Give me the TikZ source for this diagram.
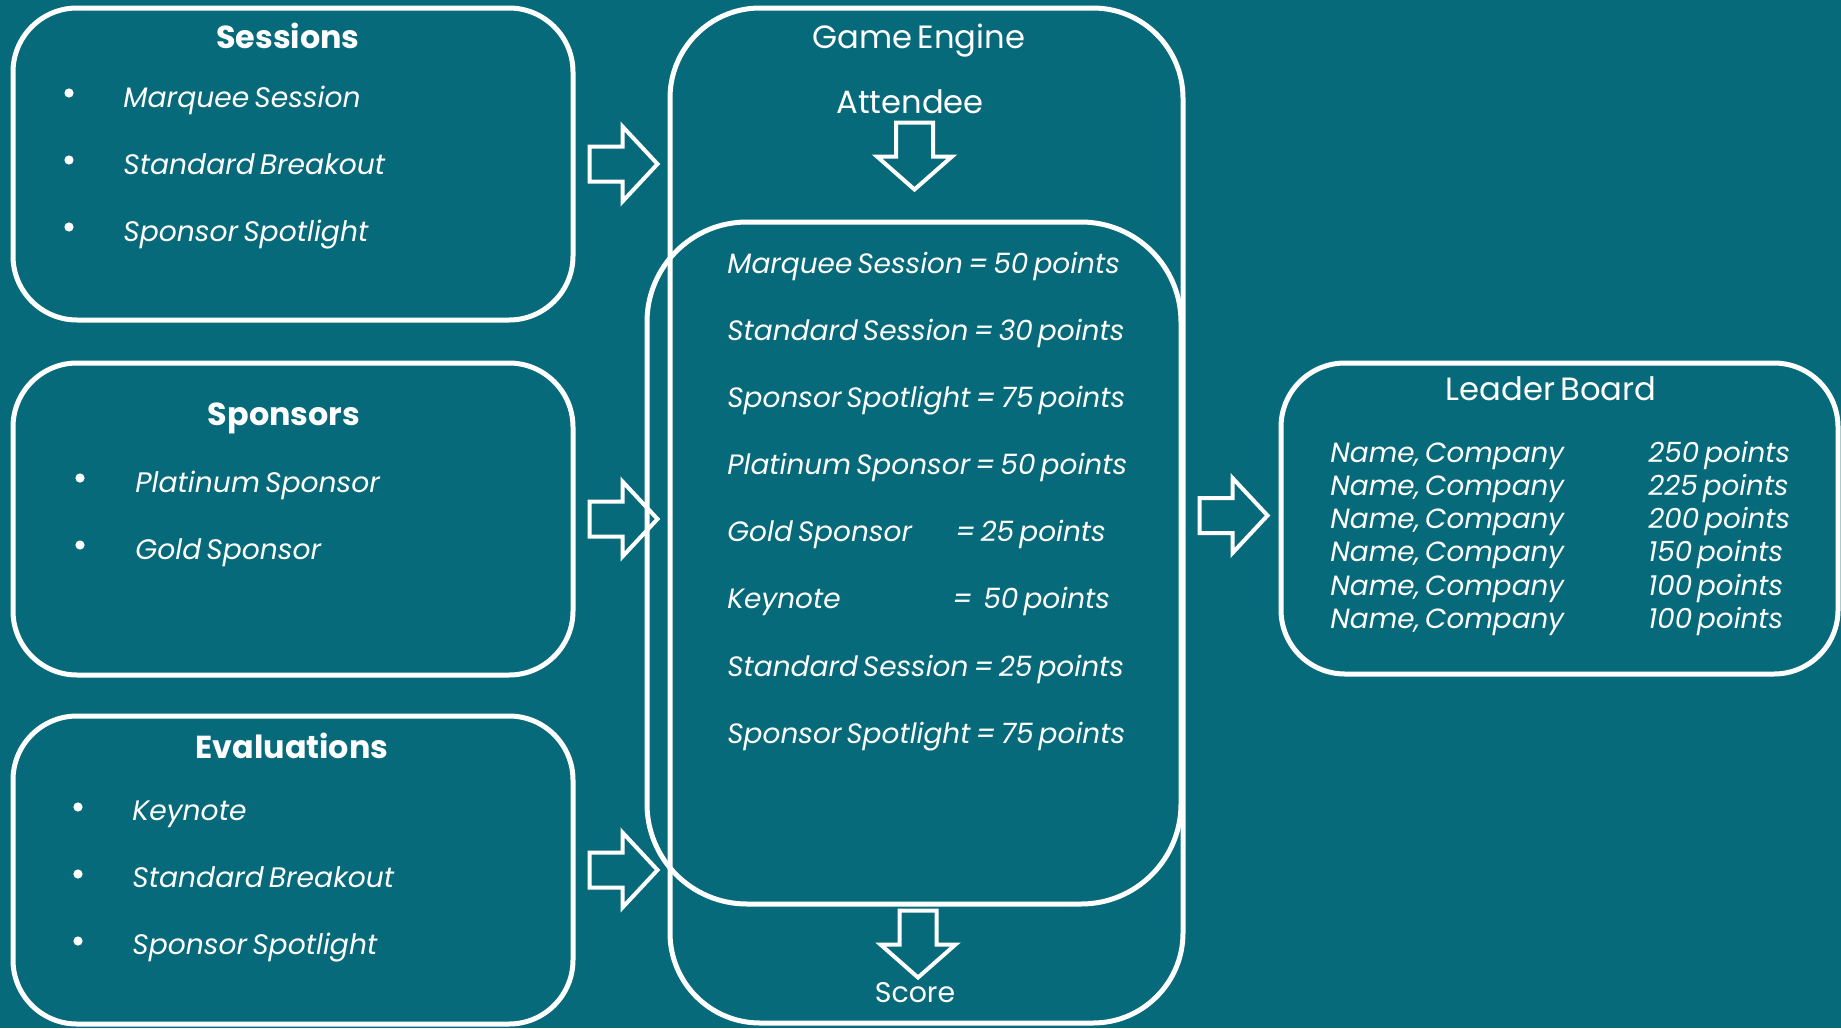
\documentclass[tikz,border=0pt]{standalone}
\usepackage{fontspec}
\setmainfont{Poppins}[WordSpace=0.6]
\definecolor{bgteal}{HTML}{066A7A}

\begin{document}
\begin{tikzpicture}[x=0.5pt, y=-0.5pt,
  panel/.style={draw=white, line width=2.5pt, inner sep=0pt},
  blockarrow/.style={draw=white, line width=2pt, line join=miter},
  title/.style={anchor=base, text=white, inner sep=0pt, font=\fontsize{15.9}{19}\selectfont\bfseries},
  head/.style={anchor=base, text=white, inner sep=0pt, font=\fontsize{16.1}{19}\selectfont},
  item/.style={anchor=base west, text=white, inner sep=0pt, font=\fontsize{14.1}{17}\selectfont\itshape},
  rule/.style={anchor=base west, text=white, inner sep=0pt, font=\fontsize{14}{16}\selectfont\itshape},
  rank/.style={anchor=base west, text=white, inner sep=0pt, font=\fontsize{13.9}{16}\selectfont\itshape}]

\newcommand\Gap{67}
\newcommand\rarrow[1]{%% block arrow right of a box
  \draw[blockarrow, shift={(#1.east)}] (14,-17.5) -- ++(33,0) -- ++(0,-20)
  -- ++(35,37.5) -- ++(-35,37.5) -- ++(0,-20) -- ++(-33,0) -- cycle;}
\newcommand\darrow[3]{%% block arrow pointing down
  \draw[blockarrow, shift={(#1)}] (#2-18.5,#3) -- ++(0,34) -- ++(-19,0)
  -- ++(37.5,33) -- ++(37.5,-33) -- ++(-19,0) -- ++(0,-34) -- cycle;}

\fill[bgteal] (0,0) rectangle (1841,1028); %% background

%% boxes
\node[panel, rounded corners=32pt, minimum width=280pt, minimum height=156pt]
  (sessions) at (293,164) {};
\node[panel, rounded corners=32pt, minimum width=280pt, minimum height=156pt]
  (sponsors) at (293,519) {};
\node[panel, rounded corners=32pt, minimum width=280pt, minimum height=154pt]
  (evals) at (293,870) {};
\node[panel, rounded corners=45pt, minimum width=256.5pt, minimum height=507.5pt]
  (engine) at (926.5,515.5) {};
\node[panel, rounded corners=50pt, minimum width=267pt, minimum height=341pt]
  (rules) at (914,563) {};
\node[panel, rounded corners=32pt, minimum width=278.5pt, minimum height=155.5pt]
  (leader) at (1559.5,518.5) {};

%% left column
\node[title] (sestitle) at (288,48) {Sessions};
\foreach \txt [count=\i from 0] in {Marquee Session, Standard Breakout, Sponsor Spotlight}{
  \fill[white] (69,93+\Gap*\i) circle (2.3pt);
  \node[item] (ses\i) at (123,107+\Gap*\i) {\txt};
}
\node[title] (spotitle) at (284,425) {Sponsors};
\foreach \txt [count=\i from 0] in {Platinum Sponsor, Gold Sponsor}{
  \fill[white] (80,478+\Gap*\i) circle (2.3pt);
  \node[item] (spo\i) at (135,492+\Gap*\i) {\txt};
}
\node[title] (evatitle) at (292,758) {Evaluations};
\foreach \txt [count=\i from 0] in {Keynote, Standard Breakout, Sponsor Spotlight}{
  \fill[white] (78,807+\Gap*\i) circle (2.3pt);
  \node[item] (eva\i) at (132,820+\Gap*\i) {\txt};
}

\rarrow{sessions}
\rarrow{sponsors}
\rarrow{evals}
\rarrow{engine}

%% game engine
\node[head] (enginetitle) at (919,48) {Game Engine};
\node[head] (attendee) at (910,113) {Attendee};
\darrow{rules.north}{0.5}{-97}
\node[rule] (r0) at (727,273) {Marquee Session = 50 points};
\node[rule] (r1) at (727,340) {Standard Session = 30 points};
\node[rule] (r2) at (727,407) {Sponsor Spotlight = 75 points};
\node[rule] (r3) at (727,474) {Platinum Sponsor = 50 points};
\node[rule] (r4) at (727,541) {Gold Sponsor};
\node[rule] (r4b) at (955,541) {= 25 points};
\node[rule] (r5) at (727,608) {Keynote};
\node[rule] (r5a) at (952,608) {=};
\node[rule] (r5b) at (983,608) {50 points};
\node[rule] (r6) at (727,676) {Standard Session = 25 points};
\node[rule] (r7) at (727,743) {Sponsor Spotlight = 75 points};
\darrow{rules.south}{4}{4}
\node[head, font=\fontsize{14.2}{17}\selectfont] (score) at (915,1002) {Score};

%% leader board
\node[head] (leadtitle) at (1551,400) {Leader Board};
\foreach \pts [count=\i from 0] in {250, 225, 200, 150, 100, 100}{
  \node[rank] (name\i) at (1330,462+33.3*\i) {Name, Company};
  \node[rank] (pts\i) at (1648,462+33.3*\i) {\pts{} points};
}

\end{tikzpicture}
\end{document}
